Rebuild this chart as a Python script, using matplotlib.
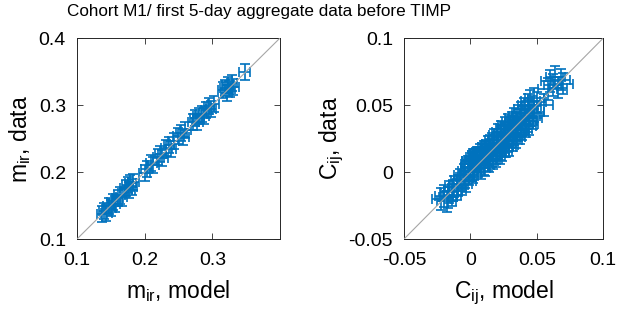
import numpy as np
import matplotlib
matplotlib.use("Agg")
import matplotlib.pyplot as plt
from matplotlib.ticker import FuncFormatter

plt.rcParams['font.family'] = ['Liberation Sans', 'DejaVu Sans']
plt.rcParams['mathtext.fontset'] = 'custom'
plt.rcParams['mathtext.rm'] = 'Liberation Sans'
plt.rcParams['mathtext.it'] = 'Liberation Sans'
plt.rcParams['axes.unicode_minus'] = False

# left panel: m_ir
m_model = [0.137, 0.140, 0.143, 0.147, 0.150, 0.153, 0.156, 0.160, 0.163, 0.166,
           0.172, 0.175, 0.177, 0.179, 0.181, 0.183, 0.200, 0.203, 0.210, 0.213,
           0.220, 0.223, 0.226, 0.232, 0.236, 0.239, 0.243, 0.250, 0.254, 0.257,
           0.260, 0.272, 0.275, 0.278, 0.280, 0.284, 0.287, 0.291, 0.295, 0.298,
           0.302, 0.316, 0.319, 0.321, 0.323, 0.326, 0.329, 0.331, 0.348]
m_data = [0.137, 0.142, 0.139, 0.149, 0.146, 0.155, 0.152, 0.161, 0.165, 0.162,
          0.176, 0.180, 0.173, 0.183, 0.178, 0.185, 0.198, 0.205, 0.214, 0.211,
          0.223, 0.227, 0.221, 0.236, 0.240, 0.235, 0.247, 0.254, 0.258, 0.252,
          0.263, 0.275, 0.280, 0.274, 0.284, 0.287, 0.283, 0.293, 0.298, 0.294,
          0.302, 0.322, 0.326, 0.318, 0.330, 0.324, 0.333, 0.327, 0.350]
m_xerr = 0.008
m_yerr = 0.012

# right panel: C_ij
c_model = [-0.022, -0.020, -0.018, -0.017, -0.016, -0.014, -0.013, -0.012, -0.010, -0.009,
           -0.008, -0.006, -0.005, -0.004, -0.003, -0.002, -0.001,
           0.000, 0.001, 0.001, 0.002, 0.002, 0.003, 0.003, 0.004, 0.005, 0.005,
           0.006, 0.007, 0.007, 0.008, 0.009, 0.010, 0.010, 0.011, 0.012, 0.013,
           0.013, 0.014, 0.015, 0.016, 0.016, 0.017, 0.018, 0.019, 0.020, 0.020,
           0.021, 0.022, 0.023, 0.024, 0.025, 0.025, 0.026, 0.027, 0.028, 0.029,
           0.030, 0.030, 0.031, 0.032, 0.033, 0.034, 0.035, 0.035, 0.036, 0.037,
           0.038, 0.039, 0.040, 0.041, 0.042, 0.043, 0.044, 0.045, 0.046, 0.048,
           0.050, 0.048, 0.055,
           0.000, 0.000, 0.001, 0.002, 0.004, 0.006, 0.008, 0.009, 0.011, 0.012,
           0.014, 0.015, 0.017, 0.018, 0.019, 0.021, 0.022, 0.023, 0.024, 0.026,
           0.027, 0.028, 0.029, 0.031, 0.032, 0.033, 0.034, 0.036, 0.037, 0.038,
           0.039, 0.040, 0.042, 0.043, 0.044, 0.045, 0.047,
           0.058, 0.060, 0.062, 0.064, 0.066, 0.068, 0.070]
c_data = [-0.020, -0.018, -0.022, -0.019, -0.015, -0.017, -0.014, -0.011, -0.013, -0.010,
          -0.006, -0.009, -0.002, -0.004, -0.007, 0.001, -0.002,
          0.004, 0.008, 0.001, 0.009, 0.006, 0.009, 0.002, 0.010, 0.007, 0.011,
          0.004, 0.011, 0.013, 0.008, 0.013, 0.006, 0.015, 0.011, 0.015, 0.009,
          0.019, 0.013, 0.017, 0.012, 0.021, 0.016, 0.020, 0.014, 0.024, 0.018,
          0.022, 0.017, 0.026, 0.021, 0.019, 0.029, 0.024, 0.028, 0.023, 0.031,
          0.026, 0.034, 0.029, 0.033, 0.028, 0.037, 0.032, 0.036, 0.031, 0.039,
          0.035, 0.041, 0.036, 0.044, 0.040, 0.038, 0.046, 0.042, 0.049, 0.045,
          0.052, 0.055, 0.050,
          0.006, 0.003, 0.008, 0.000, 0.009, 0.011, 0.003, 0.014, 0.005, 0.016,
          0.008, 0.020, 0.010, 0.024, 0.012, 0.028, 0.014, 0.030, 0.016, 0.033,
          0.019, 0.035, 0.020, 0.037, 0.024, 0.040, 0.026, 0.042, 0.029, 0.044,
          0.032, 0.047, 0.034, 0.050, 0.036, 0.053, 0.040,
          0.062, 0.068, 0.065, 0.071, 0.063, 0.069, 0.066]
c_xerr = 0.007
c_yerr = 0.008

blue = '#0072BD'
frame = '#262626'


def style_axes(ax, lim, ticks, xticks):
    ax.plot(lim, lim, color='#a6a6a6', lw=0.8, zorder=3)
    ax.set_xlim(lim)
    ax.set_ylim(lim)
    ax.set_xticks(xticks)
    ax.set_yticks(ticks)
    fmt = FuncFormatter(lambda v, p: '%g' % round(v, 4))
    ax.xaxis.set_major_formatter(fmt)
    ax.yaxis.set_major_formatter(fmt)
    ax.tick_params(direction='in', top=True, right=True, length=4, width=0.6,
                   labelsize=14, color=frame, labelcolor='black')
    ax.tick_params(axis='x', pad=9)
    ax.tick_params(axis='y', pad=8)
    for s in ax.spines.values():
        s.set_color(frame)
        s.set_linewidth(0.7)


fig = plt.figure(figsize=(6.17, 3.13), dpi=100)
ax1 = fig.add_axes([0.1248, 0.2364, 0.329, 0.642])
ax2 = fig.add_axes([0.6548, 0.2364, 0.323, 0.642])

ax1.errorbar(m_model, m_data, xerr=m_xerr, yerr=m_yerr, fmt='none', ecolor=blue,
             elinewidth=1.2, capsize=3.5, capthick=1.2)
style_axes(ax1, [0.1, 0.4], [0.1, 0.2, 0.3, 0.4], [0.1, 0.2, 0.3])
ax1.set_xlabel(r'm$_{\mathrm{ir}}$, model', fontsize=16.5, labelpad=7)
ax1.set_ylabel(r'm$_{\mathrm{ir}}$, data', fontsize=16.5, labelpad=4)

ax2.errorbar(c_model, c_data, xerr=c_xerr, yerr=c_yerr, fmt='none', ecolor=blue,
             elinewidth=1.2, capsize=3.5, capthick=1.2)
style_axes(ax2, [-0.05, 0.1], [-0.05, 0, 0.05, 0.1], [-0.05, 0, 0.05, 0.1])
ax2.set_xlabel(r'C$_{\mathrm{ij}}$, model', fontsize=16.5, labelpad=7)
ax2.set_ylabel(r'C$_{\mathrm{ij}}$, data', fontsize=16.5, labelpad=2)

fig.text(0.42, 0.962, 'Cohort M1/ first 5-day aggregate data before TIMP',
         ha='center', va='center', fontsize=12.3)

fig.savefig('out.png', dpi=100)
